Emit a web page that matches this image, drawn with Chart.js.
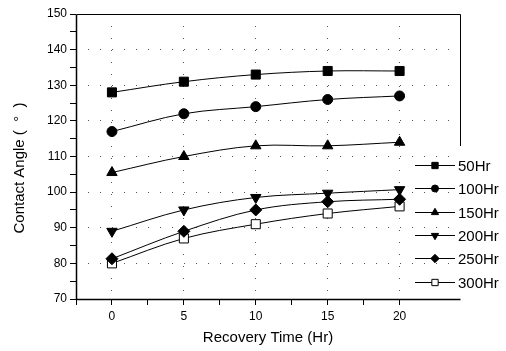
<!DOCTYPE html>
<html lang="en">
<head>
    <meta charset="UTF-8">
    <title>Contact Angle Recovery</title>
    <script src="https://cdn.jsdelivr.net/npm/chart.js"></script>
    <style>
        body { margin: 0; background: #fff; }
        #wrap { width: 506px; height: 351px; }
    </style>
</head>
<body>
<div id="wrap">
    <canvas id="angleChart" width="506" height="351"></canvas>
</div>
<script>
    // recovery time (Hr)
    const recoveryTime = [0, 5, 10, 15, 20];

    // contact angle (deg) for each treatment time
    const series50 = [128, 131, 133, 134, 134];
    const series100 = [117, 122, 124, 126, 127];
    const series150 = [105.5, 110, 113, 113, 114];
    const series200 = [89, 95, 98.5, 99.7, 100.7];
    const series250 = [81.3, 89, 95, 97.3, 98];
    const series300 = [80, 87, 91, 94, 96];

    const seriesNames = ['50Hr', '100Hr', '150Hr', '200Hr', '250Hr', '300Hr'];

    const FONT = "'Liberation Sans', Arial, sans-serif";

    const markers = [
        { style: 'rect', radius: 6.4, fill: '#000', rot: 0 },
        { style: 'circle', radius: 5, fill: '#000', rot: 0 },
        { style: 'triangle', radius: 6, fill: '#000', rot: 0 },
        { style: 'triangle', radius: 6, fill: '#000', rot: 180 },
        { style: 'rectRot', radius: 6, fill: '#000', rot: 0 },
        { style: 'rect', radius: 6.4, fill: '#fff', rot: 0 }
    ];

    const allSeries = [series50, series100, series150, series200, series250, series300];

    const datasets = allSeries.map((vals, i) => ({
        label: seriesNames[i],
        data: recoveryTime.map((t, j) => ({ x: t, y: vals[j] })),
        borderColor: '#000',
        borderWidth: 1,
        backgroundColor: markers[i].fill,
        pointBackgroundColor: markers[i].fill,
        pointBorderColor: '#000',
        pointBorderWidth: 1,
        pointStyle: markers[i].style,
        pointRotation: markers[i].rot,
        pointRadius: markers[i].radius,
        tension: 0.35,
        fill: false
    }));

    const onStep = (v, step) => Math.abs(v / step - Math.round(v / step)) < 1e-6;

    // axis lines, frame on top/right, y title and the legend block
    const framePlugin = {
        id: 'frameLegend',
        afterDraw(chart) {
            const { ctx, chartArea: a } = chart;
            const L = Math.round(a.left) + 0.5;
            const B = Math.round(a.bottom) + 0.5;
            const T = Math.round(a.top) + 0.5;
            const R = Math.round(a.right) + 0.5;
            ctx.save();
            ctx.setLineDash([]);
            ctx.strokeStyle = '#000';
            ctx.lineWidth = 1.5;
            ctx.beginPath();
            ctx.moveTo(L, T);
            ctx.lineTo(L, B);
            ctx.lineTo(R, B);
            ctx.stroke();
            ctx.lineWidth = 1;
            ctx.beginPath();
            ctx.moveTo(L, T);
            ctx.lineTo(R, T);
            ctx.lineTo(R, 146);
            ctx.stroke();

            ctx.save();
            ctx.translate(20, 168);
            ctx.rotate(-Math.PI / 2);
            ctx.font = '15px ' + FONT;
            ctx.textAlign = 'center';
            ctx.textBaseline = 'middle';
            ctx.fillStyle = '#000';
            ctx.fillText('Contact Angle (  °  )', 0, 0);
            ctx.restore();

            const x0 = 415, x1 = 455, mx = 435;
            ctx.font = '15px ' + FONT;
            ctx.textBaseline = 'middle';
            chart.data.datasets.forEach((ds, i) => {
                const y = Math.round(165 + i * 23.3) + 0.5;
                ctx.beginPath();
                ctx.moveTo(x0, y);
                ctx.lineTo(x1, y);
                ctx.stroke();
                ctx.fillStyle = markers[i].fill;
                Chart.helpers.drawPoint(ctx, {
                    pointStyle: markers[i].style,
                    rotation: markers[i].rot,
                    radius: markers[i].radius * 0.7,
                    borderWidth: 1
                }, mx, y);
                ctx.fillStyle = '#000';
                ctx.fillText(ds.label, 458, y + 1);
            });
            ctx.restore();
        }
    };

    const gridDots = '#555';

    new Chart(document.getElementById('angleChart'), {
        type: 'line',
        data: { datasets },
        plugins: [framePlugin],
        options: {
            responsive: false,
            animation: false,
            layout: { padding: { top: 14, right: 46, left: 0, bottom: 0 } },
            plugins: { legend: { display: false }, tooltip: { enabled: false } },
            scales: {
                x: {
                    type: 'linear',
                    min: -2.5,
                    max: 24.2,
                    afterFit: s => { s.height = 52; },
                    afterBuildTicks: s => { s.ticks = s.ticks.filter(t => onStep(t.value, 2.5)); },
                    ticks: {
                        stepSize: 2.5,
                        autoSkip: false,
                        maxRotation: 0,
                        padding: 4,
                        color: '#000',
                        font: { family: FONT, size: 12 },
                        callback: v => (onStep(v, 5) && v >= 0) ? String(v) : ''
                    },
                    grid: {
                        drawOnChartArea: true,
                        color: c => (c.tick && onStep(c.tick.value, 5) && c.tick.value >= 0) ? gridDots : 'rgba(0,0,0,0)',
                        tickColor: '#000',
                        tickLength: 6
                    },
                    border: { display: false, dash: [1, 11] },
                    title: {
                        display: true,
                        text: 'Recovery Time (Hr)',
                        color: '#000',
                        font: { family: FONT, size: 15 },
                        padding: { top: 0, bottom: 4 }
                    }
                },
                y: {
                    min: 70,
                    max: 150,
                    afterFit: s => { s.width = 76; },
                    ticks: {
                        stepSize: 5,
                        autoSkip: false,
                        padding: 3,
                        color: '#000',
                        font: { family: FONT, size: 12 },
                        callback: v => onStep(v, 10) ? String(v) : ''
                    },
                    grid: {
                        drawOnChartArea: true,
                        color: c => (c.tick && onStep(c.tick.value, 10) && c.tick.value > 70 && c.tick.value < 150) ? gridDots : 'rgba(0,0,0,0)',
                        tickColor: '#000',
                        tickLength: 6
                    },
                    border: { display: false, dash: [1, 11] },
                    title: { display: false }
                }
            }
        }
    });
</script>
</body>
</html>
